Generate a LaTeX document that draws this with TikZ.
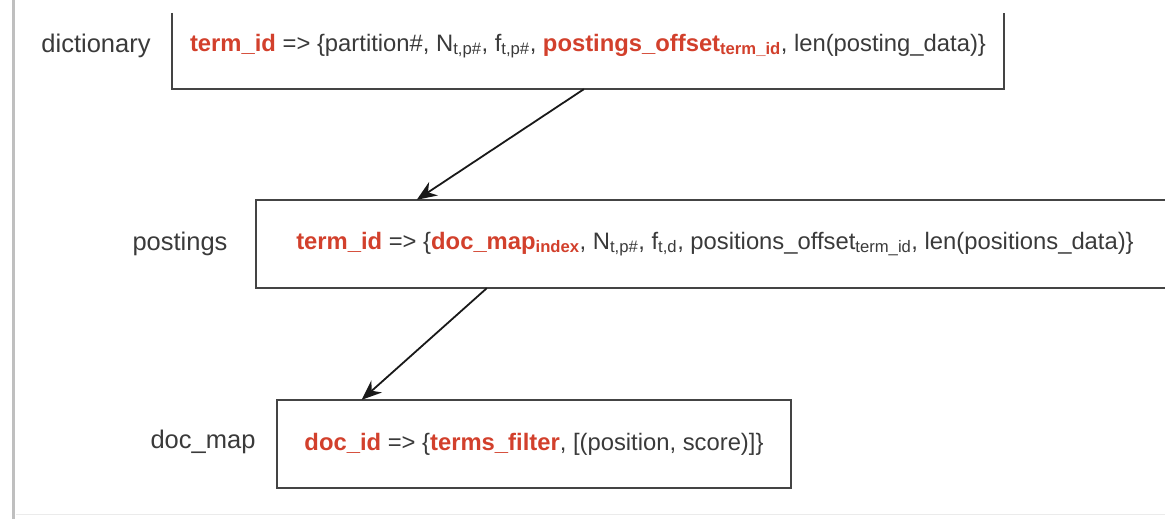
\documentclass[tikz,border=0pt]{standalone}
\usepackage{fontspec}
\setmainfont{Liberation Sans}
\usetikzlibrary{calc,arrows.meta}
\definecolor{txt}{HTML}{3A3A3A}
\definecolor{hl}{HTML}{D2402C}
\definecolor{boxc}{HTML}{444444}
\newcommand{\hlt}[1]{\textcolor{hl}{\textbf{#1}}}
\tikzset{
  lbl/.style={font=\fontsize{25.5}{28}\selectfont, text=txt, inner sep=0pt},
  body/.style={font=\fontsize{23.8}{26}\selectfont, text=txt, inner sep=0pt},
  area/.style={draw=none, inner sep=0pt},
  frame/.style={draw=boxc, line width=2.2pt},
  conn/.style={draw=black!90, line width=1.8pt, -{Stealth[length=20pt,width=16pt]}},
}
\begin{document}
\begin{tikzpicture}[x=1pt,y=1pt]
\useasboundingbox (0,0) rectangle (1165,-519);
\draw[line width=3pt, draw=black!25] (13,0) -- (13,-519);
\draw[line width=1pt, draw=black!8] (16,-514) -- (1165,-514);

% areas of boxes
\node[area, minimum width=832pt, minimum height=76pt] (dictbox) at (588,-51) {};
\node[area, minimum width=909pt, minimum height=88pt] (postbox) at (710.5,-244) {};
\node[area, minimum width=514pt, minimum height=88pt] (mapbox) at (534,-444) {};

% borders
\draw[frame] (dictbox.north west) -- (dictbox.south west) -- (dictbox.south east) -- (dictbox.north east);
\draw[frame] (postbox.north east) -- (postbox.north west) -- (postbox.south west) -- (postbox.south east);
\draw[frame] (mapbox.north west) rectangle (mapbox.south east);

% labels
\node[lbl] (ldict) at (96,-46) {dictionary};
\node[lbl] (lpost) at (180,-244) {postings};
\node[lbl] (lmap) at (203,-442) {doc\_map};

% texts
\node[body] (tdict) at (588,-46) {\hlt{term\_id} => \{partition\#, N\textsubscript{t,p\#}, f\textsubscript{t,p\#}, \hlt{postings\_offset\textsubscript{term\_id}}, len(posting\_data)\}};
\node[body] (tpost) at (715,-244) {\hlt{term\_id} => \{\hlt{doc\_map\textsubscript{index}}, N\textsubscript{t,p\#}, f\textsubscript{t,d}, positions\_offset\textsubscript{term\_id}, len(positions\_data)\}};
\node[body] (tmap) at (534,-444) {\hlt{doc\_id} => \{\hlt{terms\_filter}, [(position, score)]\}};

% connectors
\draw[conn] ($(dictbox.south west)!0.495!(dictbox.south east)$) -- ($(postbox.north west)!0.177!(postbox.north east)$);
\draw[conn] ($(postbox.south west)!0.254!(postbox.south east)$) -- ($(mapbox.north west)!0.165!(mapbox.north east)$);
\end{tikzpicture}
\end{document}
